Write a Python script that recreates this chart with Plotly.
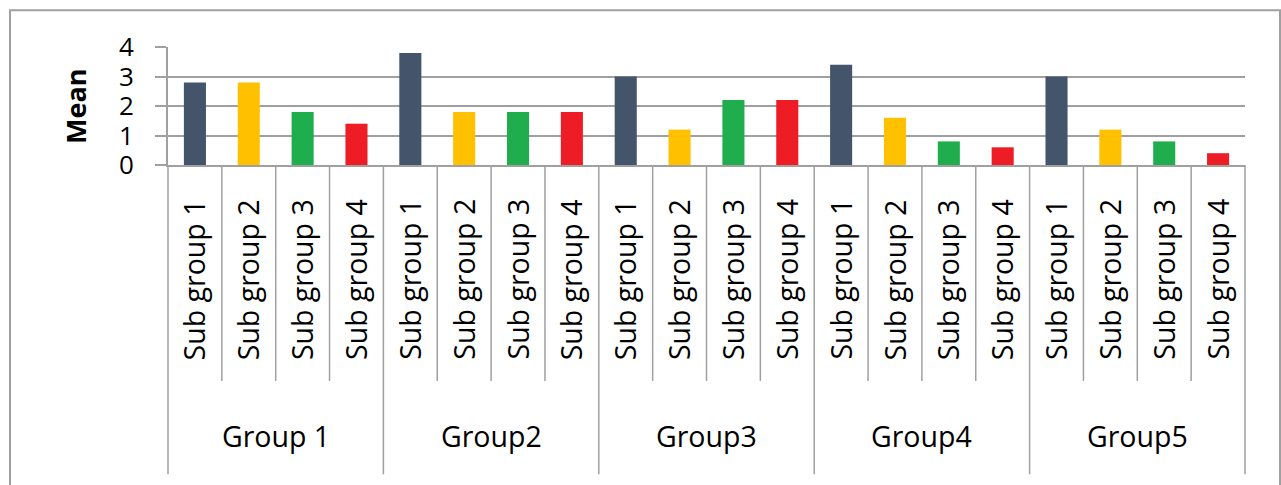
import plotly.graph_objects as go

groups = ["Group 1", "Group2", "Group3", "Group4", "Group5"]
subgroups = ["Sub group 1", "Sub group 2", "Sub group 3", "Sub group 4"]
sub1 = [2.8, 3.8, 3.0, 3.4, 3.0]
sub2 = [2.8, 1.8, 1.2, 1.6, 1.2]
sub3 = [1.8, 1.8, 2.2, 0.8, 0.8]
sub4 = [1.4, 1.8, 2.2, 0.6, 0.4]
y_ticks = [0, 1, 2, 3, 4]
colors = ["#44546A", "#FFC000", "#20AD4E", "#EE1C25"]

series = [sub1, sub2, sub3, sub4]
ns = len(subgroups)
ng = len(groups)
ncat = ng * ns

GRAY = "#A0A0A0"
FONT = "Open Sans"

fig = go.Figure()
for si, vals in enumerate(series):
    xs = [gi * ns + si for gi in range(ng)]
    fig.add_trace(go.Bar(x=xs, y=vals, width=0.41, marker_color=colors[si],
                         marker_line_width=0, name=subgroups[si], showlegend=False))

shapes = []
# sub-category dividers
for k in range(ncat + 1):
    px = k / ncat
    is_group = (k % ns == 0)
    shapes.append(dict(type="line", xref="paper", yref="paper", x0=px, x1=px,
                       y0=0, y1=-2.62 if is_group else -1.83,
                       line=dict(color=GRAY, width=1.5)))
# outer border
shapes.append(dict(type="rect", xref="paper", yref="paper", x0=-0.1467, x1=1.0325,
                   y0=-2.8, y1=1.3106, line=dict(color=GRAY, width=2), fillcolor="rgba(0,0,0,0)"))

annotations = []
for gi, g in enumerate(groups):
    for si, s in enumerate(subgroups):
        annotations.append(dict(x=gi * ns + si, xref="x", y=-0.97, yref="paper",
                                text=s, textangle=-90, showarrow=False,
                                font=dict(family=FONT, size=28.5, color="#000000"),
                                xanchor="center", yanchor="middle"))
    annotations.append(dict(x=gi * ns + (ns - 1) / 2, xref="x", y=-2.30, yref="paper",
                            text=g, showarrow=False,
                            font=dict(family=FONT, size=28.5, color="#000000"),
                            xanchor="center", yanchor="middle"))
annotations.append(dict(x=-0.0864, xref="paper", y=0.5, yref="paper", text="<b>Mean</b>",
                        textangle=-90, showarrow=False,
                        font=dict(family=FONT, size=27, color="#000000"),
                        xanchor="center", yanchor="middle"))

fig.update_layout(
    width=1281, height=485,
    margin=dict(l=168, r=36, t=47, b=320),
    plot_bgcolor="white", paper_bgcolor="white",
    barmode="overlay",
    shapes=shapes, annotations=annotations,
    xaxis=dict(range=[-0.5, ncat - 0.5], showticklabels=False, showgrid=False,
               zeroline=False, showline=True, linecolor=GRAY, linewidth=2, ticks=""),
    yaxis=dict(range=[0, 4], tickvals=y_ticks, showgrid=True, gridcolor=GRAY, gridwidth=2,
               zeroline=False, showline=True, linecolor=GRAY, linewidth=2,
               ticks="outside", ticklen=11, tickcolor=GRAY, tickwidth=2,
               ticklabelstandoff=16,
               tickfont=dict(family=FONT, size=26, color="#000000")),
)

fig.write_html("out.html")
